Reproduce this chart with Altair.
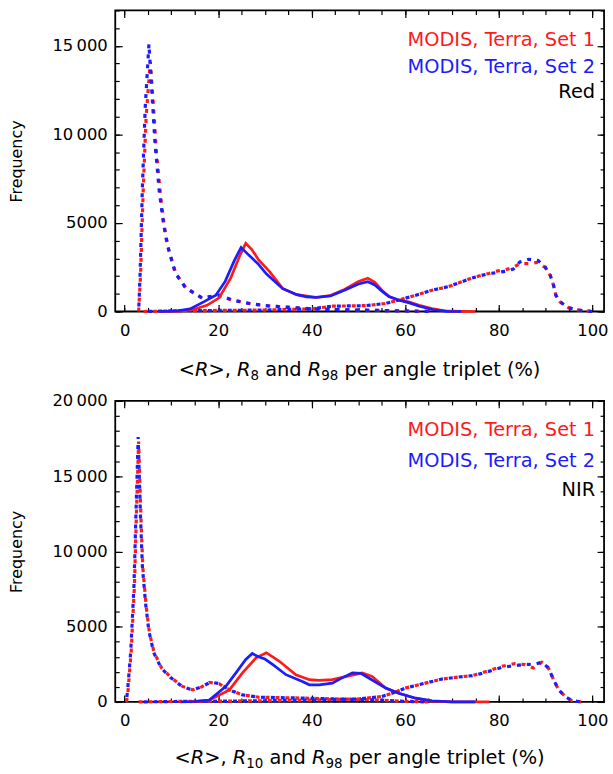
import altair as alt
import pandas as pd

RED = "#ff1a1a"
BLUE = "#1c1cff"

# ---------------- Top panel: Red band ----------------
red_low_s1_x = [3.0, 3.4, 4.0, 4.6, 5.5, 6.2, 6.8, 7.7, 8.5, 9.3, 11.0, 13.2, 16.7, 20.2, 23.0, 26.7, 30.0, 33.8, 40.0, 50.0, 60.0, 65.0]
red_low_s1_y = [0, 2000, 7000, 11000, 14100, 11500, 9000, 6500, 4800, 3600, 2100, 1300, 730, 880, 650, 450, 330, 260, 150, 80, 30, 0]
red_low_s2_x = [3.0, 3.3, 3.8, 4.4, 5.2, 5.8, 6.5, 7.4, 8.3, 9.1, 10.8, 13.0, 16.5, 20.3, 23.0, 26.7, 30.0, 33.8, 40.0, 50.0, 60.0, 65.0]
red_low_s2_y = [0, 2000, 7000, 11500, 15100, 12500, 9500, 6800, 5000, 3800, 2200, 1350, 780, 920, 650, 450, 330, 260, 140, 80, 30, 0]

red_high_x = [4, 10, 20, 30, 40, 44.5, 51.5, 55.7, 58.5, 62, 65.7, 69.2, 71.5, 73.6, 75.7, 77.9, 79.6, 81.4, 83.1, 84.5, 86.4, 88.4, 89.9, 91.0, 91.7, 92.2, 93.1, 94.9, 97.0, 99.1, 100]
red_high_s1_y = [0, 30, 60, 80, 150, 300, 330, 450, 640, 900, 1200, 1400, 1620, 1830, 2000, 2150, 2280, 2350, 2500, 2700, 2700, 2780, 2480, 2040, 1480, 915, 545, 210, 75, 20, 0]
red_high_s2_y = [0, 30, 60, 80, 150, 300, 330, 450, 640, 900, 1200, 1400, 1620, 1830, 2000, 2130, 2200, 2270, 2400, 2800, 2950, 2880, 2520, 2040, 1480, 915, 545, 210, 75, 20, 0]

red_mean_s1_x = [7.5, 11.5, 14.6, 17.6, 20.2, 22.7, 24.7, 25.9, 27.2, 28.7, 31.0, 33.8, 36.8, 40.9, 44.0, 47.0, 50.0, 52.0, 53.5, 55.0, 56.5, 58.5, 60.7, 63.0, 65.7, 68.4, 72.0, 75.0]
red_mean_s1_y = [0, 20, 100, 350, 770, 1900, 3200, 3850, 3500, 2900, 2250, 1300, 950, 800, 900, 1250, 1700, 1880, 1650, 1200, 850, 650, 545, 350, 170, 40, 10, 0]
red_mean_s2_x = [7.5, 11.0, 14.0, 17.0, 19.5, 21.5, 23.5, 24.9, 26.5, 28.5, 30.3, 33.8, 36.8, 38.9, 41.0, 44.0, 47.0, 50.0, 52.0, 53.5, 55.0, 56.5, 58.5, 60.7, 63.0, 66.0, 69.0, 72.0]
red_mean_s2_y = [0, 30, 150, 560, 915, 1700, 2900, 3620, 3200, 2700, 2130, 1290, 950, 825, 790, 880, 1200, 1550, 1680, 1500, 1150, 850, 650, 500, 300, 100, 10, 0]

# ---------------- Bottom panel: NIR band ----------------
nir_low_s1_x = [0.4, 0.7, 1.4, 2.1, 2.5, 3.0, 3.5, 3.9, 4.6, 5.3, 6.3, 7.9, 10.0, 12.4, 14.6, 16.5, 18.1, 20.2, 22.4, 25.2, 28.7, 35.8, 45, 55, 60, 65]
nir_low_s1_y = [0, 600, 3300, 7700, 12200, 17300, 12200, 8900, 6400, 4600, 3300, 2260, 1600, 1030, 800, 1000, 1300, 1210, 800, 470, 315, 270, 200, 120, 40, 0]
nir_low_s2_x = [0.3, 0.6, 1.3, 2.0, 2.4, 2.9, 3.4, 3.8, 4.5, 5.2, 6.2, 7.8, 9.9, 12.3, 14.5, 16.5, 18.3, 20.2, 22.4, 25.2, 28.7, 35.8, 45, 55, 60, 65]
nir_low_s2_y = [0, 600, 3300, 7700, 12200, 17600, 12300, 9000, 6500, 4700, 3300, 2260, 1600, 1030, 800, 1000, 1320, 1220, 800, 470, 315, 270, 200, 120, 40, 0]

nir_high_x = [3, 10, 20, 30, 40, 50, 55, 57.2, 60, 64.3, 67.8, 71.5, 74.3, 76.4, 78.6, 80.7, 83.5, 85.6, 87.4, 89.2, 90.6, 91.7, 92.8, 94.2, 95.6, 97.6]
nir_high_s1_y = [0, 30, 50, 80, 120, 200, 360, 580, 920, 1250, 1520, 1660, 1750, 1930, 2150, 2370, 2550, 2480, 2260, 2640, 2260, 1480, 800, 360, 90, 0]
nir_high_s2_y = [0, 30, 50, 80, 120, 200, 360, 580, 920, 1250, 1520, 1660, 1750, 1900, 2100, 2300, 2420, 2500, 2480, 2640, 2260, 1480, 800, 360, 90, 0]

nir_mean_s1_x = [14, 18, 22.4, 25.2, 28.1, 30.3, 33.1, 36.6, 39.5, 41.6, 44.4, 47.5, 50.8, 52.9, 55.8, 58.6, 62.2, 65.7, 70, 78]
nir_mean_s1_y = [0, 100, 800, 1930, 2930, 3270, 2700, 1810, 1480, 1430, 1480, 1700, 1930, 1700, 920, 580, 250, 60, 10, 0]
nir_mean_s2_x = [12, 15, 18.1, 21.6, 23.8, 25.9, 27.3, 28.6, 30.0, 31.7, 34.5, 38.0, 39.5, 41.6, 44.4, 46.5, 48.7, 50.5, 52.2, 55.8, 58.6, 62.2, 65.7, 70, 75]
nir_mean_s2_y = [0, 30, 130, 1030, 1930, 2820, 3220, 3000, 2850, 2480, 1810, 1360, 1140, 1140, 1250, 1600, 1930, 1900, 1590, 920, 580, 250, 80, 10, 0]

# ---------------- axis / text content ----------------
x_major = [0, 20, 40, 60, 80, 100]
x_minor = list(range(0, 101, 5))
top_y_major = [0, 5000, 10000, 15000]
top_y_minor = list(range(0, 17001, 1000))
bot_y_major = [0, 5000, 10000, 15000, 20000]
bot_y_minor = list(range(0, 20001, 1000))
legend_labels = ["MODIS, Terra, Set 1", "MODIS, Terra, Set 2"]
top_band = "Red"
bot_band = "NIR"
# x-axis titles: (text, style) with n = normal, i = italic, s = subscript
top_xtitle = [("<", "n"), ("R", "i"), (">, ", "n"), ("R", "i"), ("8", "s"), (" and ", "n"),
              ("R", "i"), ("98", "s"), (" per angle triplet (%)", "n")]
bot_xtitle = [("<", "n"), ("R", "i"), (">, ", "n"), ("R", "i"), ("10", "s"), (" and ", "n"),
              ("R", "i"), ("98", "s"), (" per angle triplet (%)", "n")]
y_title = "Frequency"

FONT = "DejaVu Sans"
W, H = 492, 303
TICK_FS = 16.5
TITLE_FS = 19.5
SUB_FS = 13.5
LEGEND_FS = 19.5

# DejaVu Sans advance widths (em) used to lay out the composite x title
DV = {" ": 0.318, "<": 0.838, ">": 0.838, ",": 0.318, "R": 0.695, "a": 0.613, "n": 0.634,
      "d": 0.635, "p": 0.635, "e": 0.615, "r": 0.411, "g": 0.635, "l": 0.278, "t": 0.392,
      "i": 0.278, "(": 0.390, ")": 0.390, "%": 0.950}


def tw(s, size):
    return sum(DV.get(c, 0.636) for c in s) * size


def build_df(curves):
    rows = []
    for setname, kind, xs, ys in curves:
        for i, (x, y) in enumerate(zip(xs, ys)):
            rows.append({"x": x, "y": y, "set": setname, "kind": kind, "idx": i})
    return pd.DataFrame(rows)


top_df = build_df([
    ("Set 1", "low", red_low_s1_x, red_low_s1_y),
    ("Set 2", "low", red_low_s2_x, red_low_s2_y),
    ("Set 1", "high", red_high_x, red_high_s1_y),
    ("Set 2", "high", red_high_x, red_high_s2_y),
    ("Set 1", "mean", red_mean_s1_x, red_mean_s1_y),
    ("Set 2", "mean", red_mean_s2_x, red_mean_s2_y),
])
bot_df = build_df([
    ("Set 1", "low", nir_low_s1_x, nir_low_s1_y),
    ("Set 2", "low", nir_low_s2_x, nir_low_s2_y),
    ("Set 1", "high", nir_high_x, nir_high_s1_y),
    ("Set 2", "high", nir_high_x, nir_high_s2_y),
    ("Set 1", "mean", nir_mean_s1_x, nir_mean_s1_y),
    ("Set 2", "mean", nir_mean_s2_x, nir_mean_s2_y),
])

y_label_expr = ("datum.value >= 10000 ? format(floor(datum.value / 1000), 'd') + '\u2009000'"
                " : format(datum.value, 'd')")


def tick_axis(orient, values, size):
    return alt.Axis(orient=orient, values=values, labels=False, domain=False, grid=False,
                    ticks=True, tickSize=size, offset=-size, tickColor="black",
                    tickWidth=1.2, title="")


def title_layers(pieces, base_y):
    out = []
    sizes = {"n": TITLE_FS, "i": TITLE_FS, "s": SUB_FS}
    total = sum(tw(t, sizes[st]) for t, st in pieces)
    cur = W / 2 - total / 2
    for t, st in pieces:
        fs = sizes[st]
        lead = len(t) - len(t.lstrip(" "))
        xpos = cur + tw(t[:lead], fs)
        ypos = base_y + (4 if st == "s" else 0)
        out.append(alt.Chart(pd.DataFrame({"t": [t.strip(" ")]}))
                   .mark_text(align="left", baseline="alphabetic", fontSize=fs, font=FONT,
                              color="black", fontStyle="italic" if st == "i" else "normal")
                   .encode(x=alt.value(xpos), y=alt.value(ypos), text="t:N"))
        cur += tw(t, fs)
    return out


def panel(df, ymax, y_major, y_minor, xtitle, title_base, band, leg_y):
    xs = alt.Scale(domain=[-2.0, 102.5], nice=False, zero=False)
    ys = alt.Scale(domain=[0, ymax], nice=False, zero=False)
    base = alt.Chart(df)
    layers = []

    def enc(xaxis=None, yaxis=None):
        return dict(x=alt.X("x:Q", scale=xs, axis=xaxis), y=alt.Y("y:Q", scale=ys, axis=yaxis),
                    detail="kind:N", order="idx:Q")

    # dashed (low / high percentile) curves
    layers.append(base.transform_filter("datum.set == 'Set 1' && datum.kind != 'mean'")
                  .mark_line(color=RED, strokeWidth=3.2, strokeDash=[4, 6], strokeCap="butt")
                  .encode(**enc()))
    layers.append(base.transform_filter("datum.set == 'Set 2' && datum.kind != 'mean'")
                  .mark_line(color=BLUE, strokeWidth=3.2, strokeDash=[4, 6], strokeDashOffset=5,
                             strokeCap="butt")
                  .encode(**enc()))
    # solid mean curves
    layers.append(base.transform_filter("datum.set == 'Set 1' && datum.kind == 'mean'")
                  .mark_line(color=RED, strokeWidth=2.7)
                  .encode(**enc()))
    layers.append(base.transform_filter("datum.set == 'Set 2' && datum.kind == 'mean'")
                  .mark_line(color=BLUE, strokeWidth=2.7)
                  .encode(**enc()))

    # labelled axes
    x_lab = alt.Axis(orient="bottom", values=x_major, ticks=False, domain=False, grid=False,
                     labelPadding=11, labelFontSize=TICK_FS, labelFlush=False, labelOverlap=False,
                     title="")
    y_lab = alt.Axis(orient="left", values=y_major, ticks=False, domain=False, grid=False,
                     labelPadding=8, labelFontSize=TICK_FS, labelExpr=y_label_expr,
                     labelOverlap=False, labelFlush=False,
                     title=y_title, titleX=-99, titleY=H / 2, titleBaseline="middle",
                     titleFontSize=16, titleFontWeight="normal")
    inv = base.transform_filter("datum.kind == 'mean'").mark_line(opacity=0)
    layers.append(inv.encode(**enc(x_lab, y_lab)))
    layers.append(inv.encode(**enc(tick_axis("bottom", x_major, 7), tick_axis("left", y_major, 7))))
    layers.append(inv.encode(**enc(tick_axis("bottom", x_minor, 4), tick_axis("left", y_minor, 4))))
    layers.append(inv.encode(**enc(tick_axis("top", x_major, 7), tick_axis("right", y_major, 7))))
    layers.append(inv.encode(**enc(tick_axis("top", x_minor, 4), tick_axis("right", y_minor, 4))))

    # in-plot legend text
    texts = legend_labels + [band]
    colors = [RED, BLUE, "black"]
    for t, c, yy in zip(texts, colors, leg_y):
        layers.append(alt.Chart(pd.DataFrame({"t": [t]}))
                      .mark_text(align="right", baseline="middle", fontSize=LEGEND_FS, color=c,
                                 font=FONT)
                      .encode(x=alt.value(483), y=alt.value(yy), text="t:N"))

    # composite x-axis title (italic R, subscripts)
    layers.extend(title_layers(xtitle, H + title_base))

    return (alt.layer(*layers)
            .resolve_axis(x="independent", y="independent")
            .properties(width=W, height=H))


top = panel(top_df, 17000, top_y_major, top_y_minor, top_xtitle, 65, top_band, [30, 57, 82])
bottom = panel(bot_df, 20000, bot_y_major, bot_y_minor, bot_xtitle, 62, bot_band, [29, 61, 90])

chart = (alt.vconcat(top, bottom, spacing=8)
         .properties(padding={"left": 8, "top": 6, "right": 4, "bottom": 0})
         .configure(font=FONT)
         .configure_view(stroke="black", strokeWidth=1.8)
         .configure_axis(labelColor="black", titleColor="black", labelFont=FONT, titleFont=FONT))

chart.save("out.html", embed_options={"renderer": "svg", "actions": False})
